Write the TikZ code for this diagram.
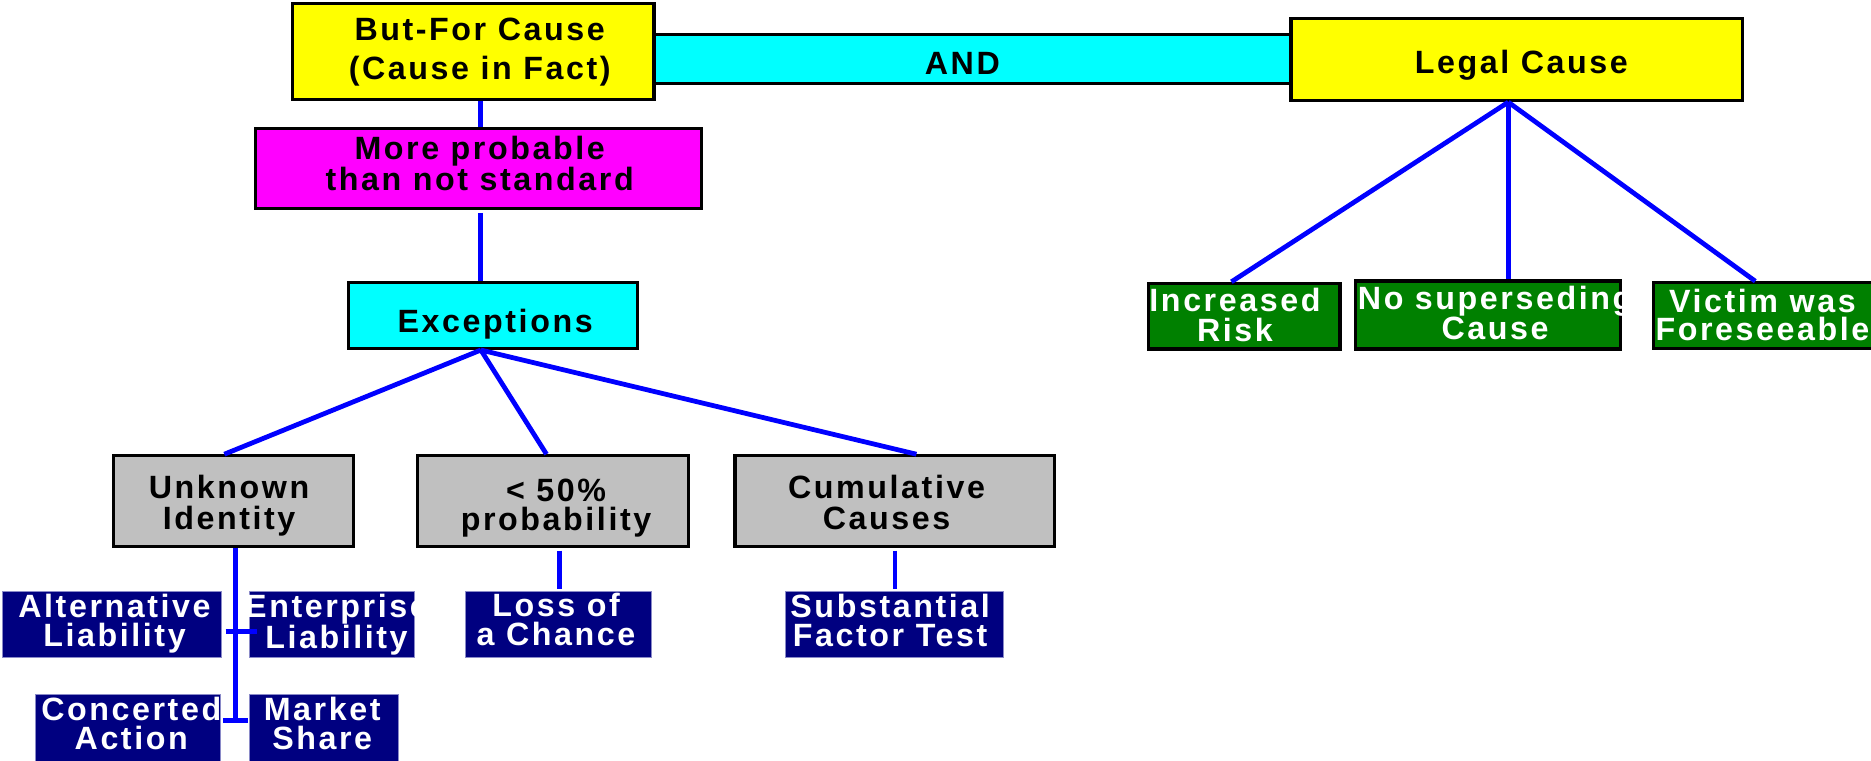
\documentclass[tikz,border=0pt]{standalone}
\usepackage{fontspec}
\newfontfamily\lab{Liberation Sans}[LetterSpace=8]
\usetikzlibrary{calc}
\definecolor{ycol}{HTML}{FFFF00}
\definecolor{ccol}{HTML}{00FFFF}
\definecolor{mcol}{HTML}{FF00FF}
\definecolor{gcol}{HTML}{C0C0C0}
\definecolor{ncol}{HTML}{000080}
\definecolor{nbord}{HTML}{8A8AC8}
\definecolor{gcol2}{HTML}{008000}
\definecolor{bcol}{HTML}{0000FF}
\newcommand\twoln[2]{\vtop{\halign{\hfil##\hfil\cr #1\cr #2\cr}}}
\tikzset{
  bx/.style={rectangle, draw=black, line width=2.7pt, inner sep=0pt},
  ybox/.style={bx, fill=ycol},
  cbox/.style={bx, fill=ccol},
  mbox/.style={bx, fill=mcol},
  gbox/.style={bx, fill=gcol},
  grbox/.style={bx, fill=gcol2},
  nbox/.style={rectangle, draw=nbord, line width=0.8pt, fill=ncol, inner sep=0pt},
  lbl/.style={anchor=base, inner sep=0pt, font=\lab\bfseries\fontsize{27}{25}\selectfont},
  wlbl/.style={lbl, text=white},
  con/.style={draw=bcol, line width=4pt},
}
\begin{document}
\begin{tikzpicture}[x=1pt, y=-1pt]
\useasboundingbox (0,0) rectangle (1568,637);
\begin{scope}
\clip (0,0) rectangle (1568,637);
% boxes
\node[cbox, minimum width=534pt, minimum height=41pt] (andbar) at (815,49.5) {};
\node[ybox, minimum width=303pt, minimum height=80.5pt] (bf) at (396.5,43) {};
\node[ybox, minimum width=378pt, minimum height=68.5pt] (legal) at (1271,50) {};
\node[mbox, minimum width=374pt, minimum height=67pt] (more) at (401,141.5) {};
\node[cbox, minimum width=242pt, minimum height=55pt] (exc) at (413,264.5) {};
\node[gbox, minimum width=201pt, minimum height=76pt] (unk) at (195.5,420) {};
\node[gbox, minimum width=227pt, minimum height=76pt] (lt50) at (463.5,420) {};
\node[gbox, minimum width=268pt, minimum height=76pt] (cum) at (750,420) {};
\node[nbox, minimum width=183.5pt, minimum height=55pt] (alt) at (93.75,523.5) {};
\node[nbox, minimum width=138pt, minimum height=55pt] (ent) at (278,523.5) {};
\node[nbox, minimum width=155pt, minimum height=58pt] (conc) at (107,611) {};
\node[nbox, minimum width=125pt, minimum height=58pt] (mkt) at (271.5,611) {};
\node[nbox, minimum width=156.5pt, minimum height=55pt] (loss) at (468,523.5) {};
\node[nbox, minimum width=183pt, minimum height=55pt] (sub) at (749.5,523.5) {};
\node[grbox, minimum width=160.5pt, minimum height=55pt] (inc) at (1042.75,265) {};
\node[grbox, minimum width=221.5pt, minimum height=57pt] (nos) at (1247,264) {};
\node[grbox, minimum width=189pt, minimum height=55pt] (vic) at (1480,264.5) {};
% texts
\node[lbl, font=\lab\bfseries\fontsize{27}{32.5}\selectfont] (tbf) at (402,34) {\twoln{But-For Cause}{(Cause in Fact)}};
\node[lbl] (tand) at (806.5,62.3) {AND};
\node[lbl] (tlegal) at (1275,62) {Legal Cause};
\node[lbl, font=\lab\bfseries\fontsize{27}{26}\selectfont] (tmore) at (402,134) {\twoln{More probable}{than not standard}};
\node[lbl] (texc) at (415,279) {Exceptions};
\node[lbl, font=\lab\bfseries\fontsize{27}{25.5}\selectfont] (tunk) at (192,418) {\twoln{Unknown}{Identity}};
\node[lbl] (tlt50) at (466,420) {\twoln{< 50\%}{probability}};
\node[lbl, font=\lab\bfseries\fontsize{27}{25.7}\selectfont] (tcum) at (743,418) {\twoln{Cumulative}{Causes}};
\node[wlbl, font=\lab\bfseries\fontsize{27}{24.2}\selectfont] (talt) at (96,517.5) {\twoln{Alternative}{Liability}};
\node[wlbl, font=\lab\bfseries\fontsize{27}{24.2}\selectfont] (tent) at (282,517.5) {\twoln{Enterprise}{Liability}};
\node[wlbl, font=\lab\bfseries\fontsize{27}{24}\selectfont] (tconc) at (110,604) {\twoln{Concerted}{Action}};
\node[wlbl, font=\lab\bfseries\fontsize{27}{24}\selectfont] (tmkt) at (270,604) {\twoln{Market}{Share}};
\node[wlbl, font=\lab\bfseries\fontsize{27}{24}\selectfont] (tloss) at (466,517) {\twoln{Loss of}{a Chance}};
\node[wlbl, font=\lab\bfseries\fontsize{27}{24.2}\selectfont] (tsub) at (746,517.5) {\twoln{Substantial}{Factor Test}};
\node[wlbl] (tinc) at (1035,261) {\twoln{Increased}{Risk}};
\node[wlbl, font=\lab\bfseries\fontsize{27}{23.6}\selectfont] (tnos) at (1253,259) {\twoln{No superseding}{Cause}};
\node[wlbl, font=\lab\bfseries\fontsize{27}{23.5}\selectfont] (tvic) at (1477,261.5) {\twoln{Victim was}{Foreseeable}};
% connectors
\draw[con] ([xshift=6.5pt]bf.south) -- ([xshift=6.5pt]bf.south |- more.north);
\draw[con] ([xshift=2pt,yshift=-2pt]more.south) -- ([xshift=2pt]more.south |- exc.north);
\coordinate (excapex) at ([xshift=-10pt]exc.south);
\draw[con] (excapex) -- ([xshift=-7.5pt]unk.north);
\draw[con] (excapex) -- ([xshift=-5.5pt]lt50.north);
\draw[con] (excapex) -- ([xshift=18pt]cum.north);
\coordinate (legapex) at ([xshift=-7pt]legal.south);
\draw[con] (legapex) -- ([xshift=-10.75pt]inc.north);
\draw[con] (legapex) -- ([xshift=17pt]nos.north);
\draw[con] (legapex) -- ([xshift=-9pt]vic.north);
\coordinate (trunkend) at (197.5,604);
\coordinate (t1l) at (189,529);
\coordinate (t1r) at (215,529);
\coordinate (t2l) at (187,604);
\coordinate (t2r) at (208,604);
\draw[con] ([xshift=2pt]unk.south) -- (trunkend);
\draw[con] (t1l) -- (t1r);
\draw[con] (t2l) -- (t2r);
\draw[con] ([xshift=5.5pt,yshift=-2pt]lt50.south) -- ([xshift=1pt,yshift=2pt]loss.north);
\draw[con] ([yshift=-2pt]cum.south) -- ([yshift=2pt]cum.south |- sub.north);
\end{scope}
\end{tikzpicture}
\end{document}
